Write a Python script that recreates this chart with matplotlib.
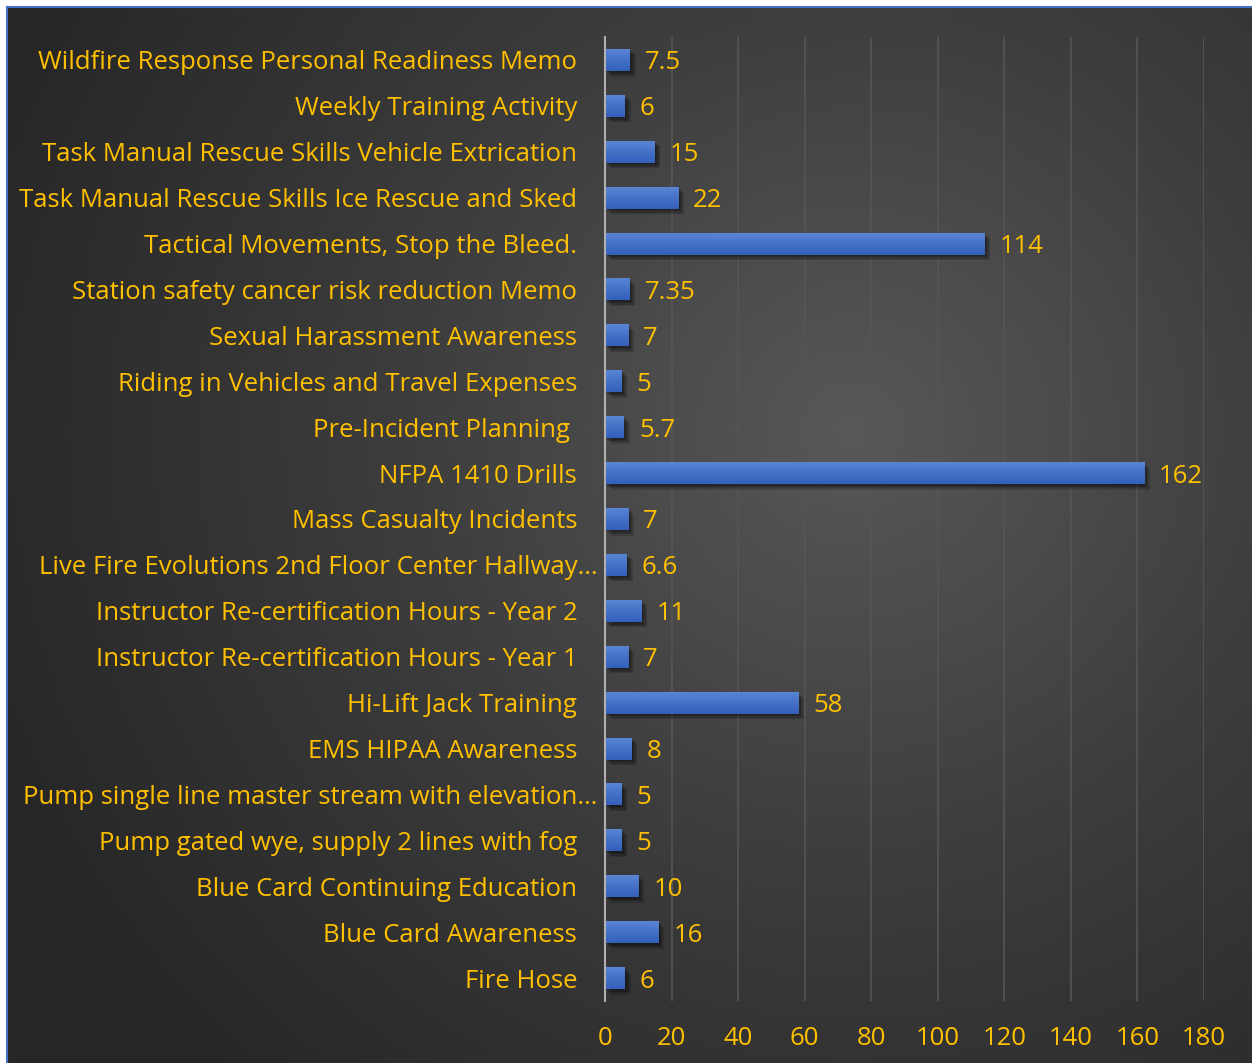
import matplotlib
matplotlib.use("Agg")
import matplotlib.pyplot as plt
import matplotlib.patheffects as pe
import matplotlib.transforms as mtransforms
import numpy as np
from matplotlib.colors import LinearSegmentedColormap

# --- Data (top to bottom as shown) ---
categories = [
    "Wildfire Response Personal Readiness Memo",
    "Weekly Training Activity",
    "Task Manual Rescue Skills Vehicle Extrication",
    "Task Manual Rescue Skills Ice Rescue and Sked",
    "Tactical Movements, Stop the Bleed.",
    "Station safety cancer risk reduction Memo",
    "Sexual Harassment Awareness",
    "Riding in Vehicles and Travel Expenses",
    "Pre-Incident Planning ",
    "NFPA 1410 Drills",
    "Mass Casualty Incidents",
    "Live Fire Evolutions 2nd Floor Center Hallway\u2026",
    "Instructor Re-certification Hours - Year 2",
    "Instructor Re-certification Hours - Year 1",
    "Hi-Lift Jack Training",
    "EMS HIPAA Awareness",
    "Pump single line master stream with elevation\u2026",
    "Pump gated wye, supply 2 lines with fog",
    "Blue Card Continuing Education",
    "Blue Card Awareness",
    "Fire Hose",
]
hours = [7.5, 6, 15, 22, 114, 7.35, 7, 5, 5.7, 162, 7, 6.6, 11, 7, 58, 8, 5, 5, 10, 16, 6]
x_ticks = [0, 20, 40, 60, 80, 100, 120, 140, 160, 180]

GOLD = "#FFC000"
FONT = "Open Sans"
FS = 18.5

W, H = 1252, 1063
fig = plt.figure(figsize=(W / 100, H / 100), dpi=100, facecolor="white")

# --- Background: radial gradient panel with blue border on top/left ---
bx0, by_top = 7 / W, 7 / H
bg = fig.add_axes([bx0, 0, 1 - bx0, 1 - by_top])
bg.set_axis_off()
yy, xx = np.mgrid[0:1:400j, 0:1:400j]
d = np.sqrt(((xx - 0.68) / 0.75) ** 2 + ((yy - 0.40) / 0.85) ** 2)
d = np.clip(d, 0, 1)
cmap_bg = LinearSegmentedColormap.from_list("bg", ["#585858", "#3c3c3c", "#262626"])
bg.imshow(d, cmap=cmap_bg, extent=(0, 1, 1, 0), aspect="auto", vmin=0, vmax=1)
bg.set_xlim(0, 1)
bg.set_ylim(1, 0)
fig.add_artist(plt.Line2D([bx0, 1], [1 - by_top, 1 - by_top], color="#4472C4",
                          linewidth=1.5, transform=fig.transFigure))
fig.add_artist(plt.Line2D([bx0, bx0], [0, 1 - by_top], color="#4472C4",
                          linewidth=1.5, transform=fig.transFigure))

# --- Plot axes ---
ax_l, ax_r = 605 / W, 1204 / W
ax_t, ax_b = 37 / H, 1001 / H
ax = fig.add_axes([ax_l, 1 - ax_b, ax_r - ax_l, ax_b - ax_t])
ax.patch.set_alpha(0)

n = len(categories)
ypos = np.arange(n)
bh = 0.48
bars = ax.barh(ypos, hours, height=bh, color="#4472C4", zorder=3)

# soft shadow made of a few offset layers
shadow = [pe.SimplePatchShadow(offset=(k, -k), shadow_rgbFace="black", alpha=0.16)
          for k in (1, 2, 3, 4)]

grad = np.linspace(0, 1, 50).reshape(-1, 1)
cmap_bar = LinearSegmentedColormap.from_list("bar", ["#5B87D8", "#4472C4", "#3460BD"])
for rect, y, v in zip(bars, ypos, hours):
    rect.set_path_effects(shadow + [pe.Normal()])
    im = ax.imshow(grad, cmap=cmap_bar, aspect="auto", zorder=4,
                   extent=(0, v, y + bh / 2, y - bh / 2), origin="upper")
    im.set_clip_path(rect)
    ax.text(v + 4.5, y, f"{v:g}", color=GOLD, fontsize=FS, family=FONT,
            va="center_baseline", ha="left", zorder=5)

ax.set_xlim(0, 180)
ax.set_ylim(n - 0.5, -0.5)
ax.set_yticks(ypos)
ax.set_yticklabels(categories, fontsize=FS, family=FONT, color=GOLD)
ax.set_xticks(x_ticks)
ax.set_xticklabels([str(t) for t in x_ticks], fontsize=FS, family=FONT, color=GOLD)
ax.tick_params(axis="both", length=0)
ax.tick_params(axis="y", pad=20)
ax.tick_params(axis="x", pad=18)

# truncated labels run a little closer to the axis
shift = mtransforms.ScaledTranslation(0.2, 0, fig.dpi_scale_trans)
for lab in ax.get_yticklabels():
    if lab.get_text().endswith("\u2026"):
        lab.set_transform(lab.get_transform() + shift)

ax.xaxis.grid(True, color="#555555", linewidth=1.2, zorder=0)
ax.set_axisbelow(True)
for side in ["top", "right", "bottom"]:
    ax.spines[side].set_visible(False)
ax.spines["left"].set_color("#b0b0b0")
ax.spines["left"].set_linewidth(1.5)
ax.spines["left"].set_zorder(6)

fig.savefig("out.png", dpi=100, facecolor=fig.get_facecolor())
